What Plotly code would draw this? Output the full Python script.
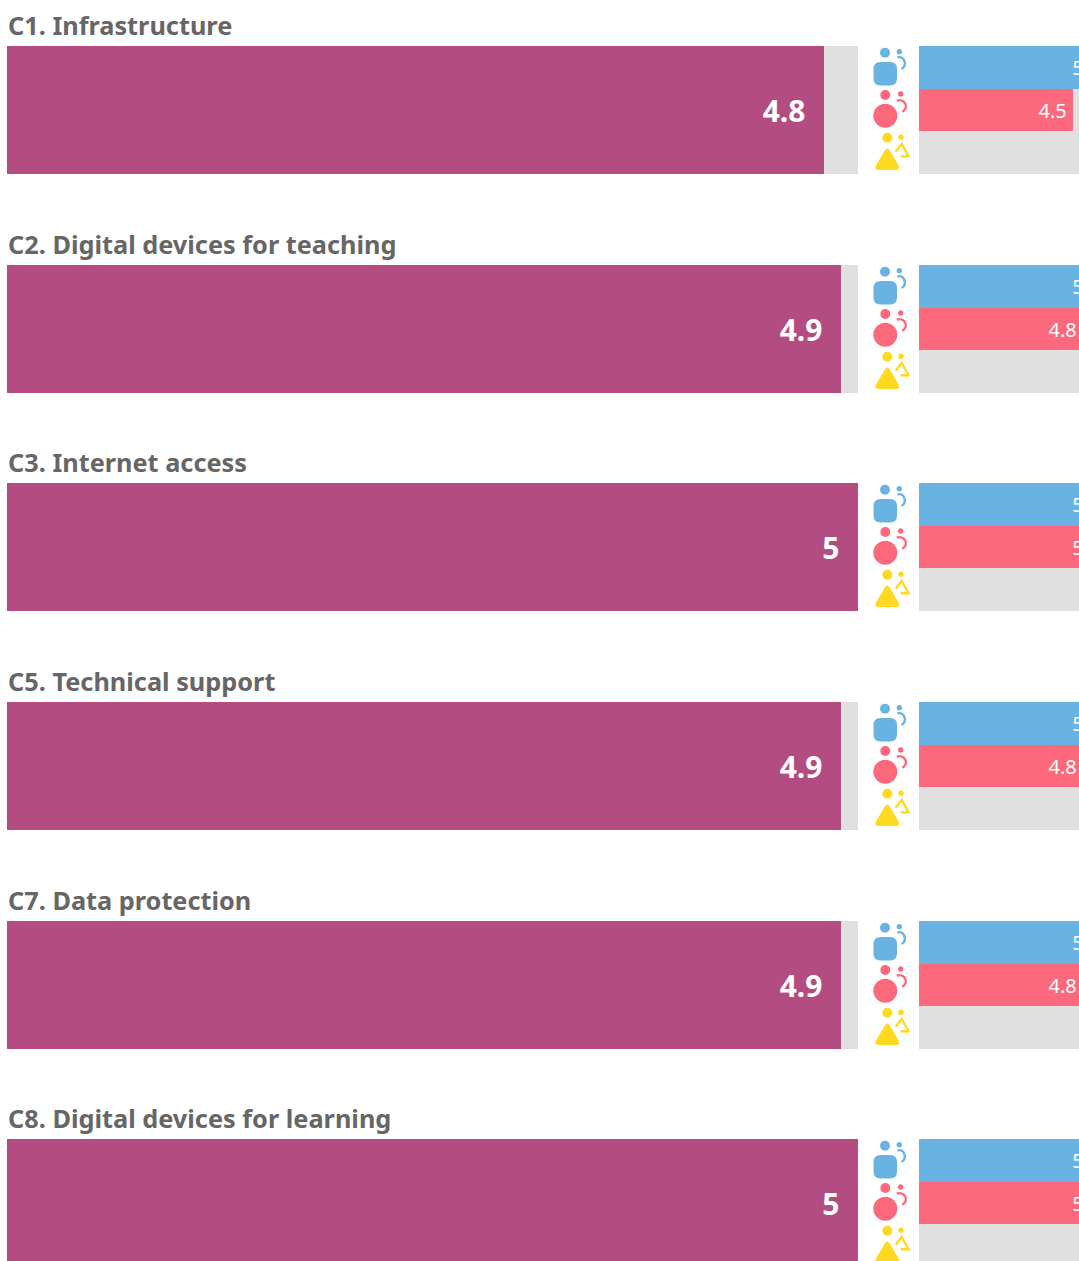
import plotly.graph_objects as go

W, H = 1079, 1261

# ---- data ----
titles = ["C1. Infrastructure", "C2. Digital devices for teaching", "C3. Internet access",
          "C5. Technical support", "C7. Data protection", "C8. Digital devices for learning"]
overall = [4.8, 4.9, 5, 4.9, 4.9, 5]
blue_values = [5, 5, 5, 5, 5, 5]
red_values = [4.5, 4.8, 5, 4.8, 4.8, 5]
yellow_values = [None, None, None, None, None, None]
scale_max = 5

# ---- layout constants (pixels) ----
panel_tops = [46, 265, 483, 702, 921, 1139]
panel_h = 128
main_l, main_r = 7, 858
side_l = 919
side_unit = 34.2

PURPLE, BLUE, RED, YELLOW, GREY = "#B34C80", "#69B3E3", "#FC687C", "#FFD91F", "#E0E0E0"
FONT = "Noto Sans"

fx = lambda p: p / W
fy = lambda p: 1 - p / H

fig = go.Figure()
shapes, annotations = [], []
layout = dict(
    width=W, height=H, margin=dict(l=0, r=0, t=0, b=0, pad=0),
    paper_bgcolor="white", plot_bgcolor="white", barmode="overlay",
    showlegend=False, bargap=0, autosize=False,
    xaxis=dict(domain=[fx(main_l), fx(main_r)], range=[0, scale_max], visible=False, fixedrange=True),
    xaxis2=dict(domain=[fx(side_l), 1], range=[0, (W - side_l) / side_unit], visible=False, fixedrange=True),
)


def circle(cx, cy, r, color):
    shapes.append(dict(type="circle", xref="paper", yref="paper", x0=fx(cx - r), x1=fx(cx + r),
                       y0=fy(cy + r), y1=fy(cy - r), fillcolor=color, line_width=0, layer="above"))


def path(d, fill=None, line=None, lw=2.4):
    s = ""
    for cmd, pts in d:
        s += cmd + " ".join(f"{fx(x):.5f},{fy(y):.5f}" for x, y in pts) + " "
    if fill:
        s += "Z"
    shapes.append(dict(type="path", xref="paper", yref="paper", path=s, layer="above",
                       fillcolor=fill if fill else "rgba(0,0,0,0)",
                       line=dict(color=line or fill, width=lw if line else 0)))


def icons(t):
    # blue person
    circle(885, t + 6.7, 5, BLUE)
    circle(899.3, t + 5.7, 2.7, BLUE)
    l, r, a, b, c = 873.5, 897, t + 16, t + 39.5, 7
    path([("M", [(l + c, a)]), ("L", [(r - c, a)]), ("Q", [(r, a), (r, a + c)]), ("L", [(r, b - c)]),
          ("Q", [(r, b), (r - c, b)]), ("L", [(l + c, b)]), ("Q", [(l, b), (l, b - c)]),
          ("L", [(l, a + c)]), ("Q", [(l, a), (l + c, a)])], fill=BLUE)
    path([("M", [(897.5, t + 11.5)]), ("C", [(904, t + 9.5), (908, t + 19), (901.5, t + 23)])], line=BLUE)
    # red person
    circle(885.3, t + 49, 5, RED)
    circle(900.7, t + 48, 2.7, RED)
    circle(885.3, t + 69.7, 12, RED)
    path([("M", [(896.7, t + 54.7)]), ("C", [(904, t + 52), (910, t + 61), (902.3, t + 65.7)])], line=RED)
    # yellow person
    circle(887.3, t + 91.7, 5, YELLOW)
    circle(901, t + 91.3, 2.7, YELLOW)
    path([("M", [(884.5, t + 105)]), ("Q", [(887.3, t + 100), (890.1, t + 105)]), ("L", [(898.5, t + 119.5)]),
          ("Q", [(900.5, t + 124), (896, t + 124)]), ("L", [(878.5, t + 124)]),
          ("Q", [(874, t + 124), (876, t + 119.5)])], fill=YELLOW)
    path([("M", [(895.7, t + 105.7)]), ("L", [(901.7, t + 98)]), ("L", [(908.5, t + 110.2)]),
          ("L", [(900.7, t + 110.2)])], line=YELLOW)


for i, title in enumerate(titles):
    t = panel_tops[i]
    bottom = min(t + panel_h, H)
    cut = (t + panel_h - bottom) / panel_h       # fraction of the panel below the window
    dom = [fy(bottom), fy(t)]
    ym, ys = f"y{2 * i + 1 if i else ''}", f"y{2 * i + 2}"
    layout[f"yaxis{2 * i + 1 if i else ''}"] = dict(domain=dom, range=[-0.5 + cut, 0.5], visible=False,
                                                   fixedrange=True, anchor="x")
    layout[f"yaxis{2 * i + 2}"] = dict(domain=dom, range=[2.5 - 3 * cut, -0.5], visible=False,
                                       fixedrange=True, anchor="x2")

    # main bar
    fig.add_bar(x=[scale_max], y=[0], orientation="h", width=1, marker=dict(color=GREY, line_width=0),
                xaxis="x", yaxis=ym, hoverinfo="skip")
    fig.add_bar(x=[overall[i]], y=[0], orientation="h", width=1, marker=dict(color=PURPLE, line_width=0),
                xaxis="x", yaxis=ym, text=[f"{overall[i]}\u00a0\u00a0"], textposition="inside",
                insidetextanchor="end", constraintext="none", cliponaxis=True,
                insidetextfont=dict(family=FONT, size=30, color="white", weight=700))

    # side bars
    fig.add_bar(x=[scale_max] * 3, y=[0, 1, 2], orientation="h", width=1, marker=dict(color=GREY, line_width=0),
                xaxis="x2", yaxis=ys, hoverinfo="skip")
    for row, (vals, col) in enumerate([(blue_values, BLUE), (red_values, RED), (yellow_values, YELLOW)]):
        v = vals[i]
        if v is None:
            continue
        fig.add_bar(x=[v], y=[row], orientation="h", width=1, marker=dict(color=col, line_width=0),
                    xaxis="x2", yaxis=ys, text=[f"{v}\u2009"], textposition="inside",
                    insidetextanchor="end", constraintext="none", cliponaxis=True,
                    insidetextfont=dict(family=FONT, size=20, color="white"))

    annotations.append(dict(text=f"<b>{title}</b>", xref="paper", yref="paper", x=fx(8), y=fy(t - 21),
                            xanchor="left", yanchor="middle", showarrow=False, xshift=-2,
                            font=dict(family=FONT, size=25.3, color="#666666")))
    icons(t)

layout["shapes"] = shapes
layout["annotations"] = annotations
fig.update_layout(**layout)
fig.write_html(
    "out.html", config=dict(displayModeBar=False),
    post_script="document.body.style.margin='0';document.documentElement.style.overflow='hidden';",
)
